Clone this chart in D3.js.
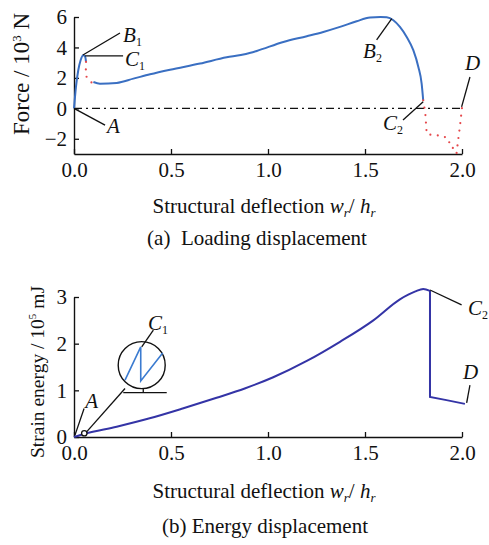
<!DOCTYPE html>
<html>
<head>
<meta charset="utf-8">
<script src="https://cdn.jsdelivr.net/npm/d3@7/dist/d3.min.js"></script>
<style>
  html, body { margin: 0; padding: 0; background: #ffffff; }
  svg { display: block; }
  text { font-family: "Liberation Serif", "Times New Roman", serif; fill: #111; }
</style>
</head>
<body>
<svg id="chart" width="489" height="545"></svg>
<script>
// ---- data ----
const xTicks = [0, 0.5, 1.0, 1.5, 2.0];
const forceTicks = [-2, 0, 2, 4, 6];
const energyTicks = [0, 1, 2, 3];

// force (10^3 N) vs deflection: initial loading A -> B1 -> C1
const riseX = [0, 0.01, 0.022, 0.034, 0.048, 0.058, 0.062];
const riseY = [0, 1.4, 2.5, 3.16, 3.49, 3.38, 3.05];
// unstable drop after C1
const dropX = [0.062, 0.061, 0.063, 0.09];
const dropY = [3.05, 2.5, 2.1, 1.7];
// main loading branch up to B2 and C2
const mainX = [0.1, 0.134, 0.22, 0.306, 0.392, 0.495, 0.65, 0.787, 0.86, 0.91, 0.942, 1.079, 1.2, 1.285, 1.371, 1.457, 1.526, 1.58, 1.612, 1.646, 1.68, 1.715, 1.749, 1.775, 1.792, 1.8];
const mainY = [1.73, 1.62, 1.67, 1.95, 2.24, 2.54, 2.94, 3.35, 3.5, 3.65, 3.77, 4.36, 4.74, 5.02, 5.35, 5.72, 5.96, 6.0, 5.98, 5.79, 5.35, 4.69, 3.82, 2.72, 1.62, 0.53];
// post-failure branch C2 -> D
const failX = [1.8, 1.811, 1.818, 1.852, 1.895, 1.93, 1.94, 1.964, 1.972, 1.98, 1.99, 2.0];
const failY = [0.53, -0.35, -1.67, -1.78, -1.78, -2.0, -2.54, -2.65, -2.95, -2.1, -1.12, 0.05];

// strain energy (10^5 mJ) vs deflection
const energyX = [0, 0.057, 0.22, 0.39, 0.56, 0.735, 0.88, 1.027, 1.2, 1.371, 1.543, 1.68, 1.76, 1.8, 1.835];
const energyY = [0, 0.07, 0.22, 0.40, 0.61, 0.84, 1.04, 1.28, 1.63, 2.04, 2.5, 2.95, 3.12, 3.17, 3.13];
const energyTailX = [1.835, 1.835, 1.92, 2.015];
const energyTailY = [3.13, 0.86, 0.79, 0.71];

// ---- layout ----
const svg = d3.select("#chart");
const FONT = 21;
const blue = "#3a6fc2";
const red = "#e5484b";
const indigo = "#3434a6";

const x = d3.scaleLinear().domain([0, 2]).range([74, 462]);
const yF = d3.scaleLinear().domain([-3, 6]).range([154, 17]);
const yE = d3.scaleLinear().domain([0, 3]).range([437, 297]);

const zip = (xs, ys) => xs.map((v, i) => [v, ys[i]]);

function drawAxes(yScale, ticks, xBase) {
  const gx = svg.append("g").attr("transform", `translate(0,${xBase})`)
    .call(d3.axisBottom(x).tickValues(xTicks).tickFormat(d3.format(".1f"))
      .tickSizeInner(-5).tickSizeOuter(0).tickPadding(8));
  const gy = svg.append("g").attr("transform", `translate(${x(0)},0)`)
    .call(d3.axisLeft(yScale).tickValues(ticks).tickFormat(d3.format("d"))
      .tickSizeInner(-5).tickSizeOuter(0).tickPadding(7));
  [gx, gy].forEach(g => {
    g.selectAll("path.domain").attr("stroke", "#111").attr("stroke-width", 1.4);
    g.selectAll(".tick line").attr("stroke", "#111").attr("stroke-width", 1.3);
    g.selectAll(".tick text").style("font-family", "Liberation Serif, serif")
      .style("font-size", FONT + "px").attr("fill", "#111");
  });
}

function label(sx, sy, px, py, main, sub) {
  const t = svg.append("text").attr("x", sx(px)).attr("y", sy(py))
    .style("font-size", FONT + "px").style("font-style", "italic").text(main);
  if (sub) {
    t.append("tspan").attr("dy", 4).style("font-size", "12px")
      .style("font-style", "normal").text(sub);
  }
}

function leader(sx, sy, p0, p1) {
  svg.append("line")
    .attr("x1", sx(p0[0])).attr("y1", sy(p0[1]))
    .attr("x2", sx(p1[0])).attr("y2", sy(p1[1]))
    .attr("stroke", "#111").attr("stroke-width", 1.3);
}

function axisTitle(cx, baseY, main) {
  const t = svg.append("text").attr("x", cx).attr("y", baseY)
    .attr("text-anchor", "middle").style("font-size", FONT + "px");
  t.append("tspan").text(main + " ");
  t.append("tspan").style("font-style", "italic").text("w");
  t.append("tspan").attr("dy", 4).style("font-size", "13px").style("font-style", "italic").text("r");
  t.append("tspan").attr("dy", -4).text("/ ");
  t.append("tspan").style("font-style", "italic").text("h");
  t.append("tspan").attr("dy", 4).style("font-size", "13px").style("font-style", "italic").text("r");
}

function yTitle(cx, cy, size, before, sup, after) {
  const t = svg.append("text")
    .attr("transform", `translate(${cx},${cy}) rotate(-90)`)
    .attr("text-anchor", "middle").style("font-size", size + "px");
  t.append("tspan").text(before);
  t.append("tspan").attr("dy", -8).style("font-size", Math.round(size * 0.58) + "px").text(sup);
  t.append("tspan").attr("dy", 8).text(after);
}

// ================= (a) loading displacement =================
drawAxes(yF, forceTicks, yF(-3));

// zero reference line
svg.append("line")
  .attr("x1", x(0)).attr("x2", x(2)).attr("y1", yF(0)).attr("y2", yF(0))
  .attr("stroke", "#111").attr("stroke-width", 1.4)
  .attr("stroke-dasharray", "8,4,2,4");

const lineF = d3.line().x(d => x(d[0])).y(d => yF(d[1]));

svg.append("path").datum(zip(riseX, riseY))
  .attr("d", lineF.curve(d3.curveMonotoneX)).attr("fill", "none")
  .attr("stroke", blue).attr("stroke-width", 2);
svg.append("path").datum(zip(mainX, mainY))
  .attr("d", lineF.curve(d3.curveMonotoneX)).attr("fill", "none")
  .attr("stroke", blue).attr("stroke-width", 2);

const dotted = d3.line().x(d => x(d[0])).y(d => yF(d[1])).curve(d3.curveLinear);
[zip(dropX, dropY), zip(failX, failY)].forEach(seg => {
  svg.append("path").datum(seg).attr("d", dotted).attr("fill", "none")
    .attr("stroke", red).attr("stroke-width", 2.2)
    .attr("stroke-linecap", "round").attr("stroke-dasharray", "0,7.5");
});

// point labels
leader(x, yF, [0, 0], [0.16, -1.1]);
label(x, yF, 0.17, -1.62, "A");
leader(x, yF, [0.046, 3.5], [0.237, 4.95]);
label(x, yF, 0.253, 4.36, "B", "1");
leader(x, yF, [0.057, 3.44], [0.253, 3.44]);
label(x, yF, 0.263, 2.8, "C", "1");
leader(x, yF, [1.638, 5.9], [1.56, 4.49]);
label(x, yF, 1.49, 3.3, "B", "2");
leader(x, yF, [1.8, 0.43], [1.696, -0.77]);
label(x, yF, 1.593, -1.43, "C", "2");
leader(x, yF, [1.998, 0.1], [2.041, 2.06]);
label(x, yF, 2.015, 2.52, "D");

yTitle(29, 74, 23, "Force / 10", "3", " N");
axisTitle(264, 213, "Structural deflection");
svg.append("text").attr("x", 257).attr("y", 245).attr("text-anchor", "middle")
  .style("font-size", FONT + "px")
  .text("(a)\u00a0\u00a0Loading displacement");

// ================= (b) energy displacement =================
drawAxes(yE, energyTicks, yE(0));

const lineE = d3.line().x(d => x(d[0])).y(d => yE(d[1]));
svg.append("path").datum(zip(energyX, energyY))
  .attr("d", lineE.curve(d3.curveMonotoneX)).attr("fill", "none")
  .attr("stroke", indigo).attr("stroke-width", 2);
svg.append("path").datum(zip(energyTailX, energyTailY))
  .attr("d", lineE.curve(d3.curveLinear)).attr("fill", "none")
  .attr("stroke", indigo).attr("stroke-width", 2);

// magnified view of the jump at C1
const lens = { cx: 0.349, cy: 1.54, r: 23.5 };
svg.append("circle").attr("cx", x(lens.cx)).attr("cy", yE(lens.cy)).attr("r", lens.r)
  .attr("fill", "none").attr("stroke", "#111").attr("stroke-width", 1.4);
const zigX = [0.263, 0.344, 0.344, 0.457];
const zigY = [1.22, 1.93, 1.2, 1.8];
svg.append("path").datum(zip(zigX, zigY))
  .attr("d", lineE.curve(d3.curveLinear)).attr("fill", "none")
  .attr("stroke", "#3b7bd0").attr("stroke-width", 1.6);
leader(x, yE, [0.254, 0.95], [0.478, 0.95]);
leader(x, yE, [0.357, 0.95], [0.357, 1.04]);
leader(x, yE, [0.263, 1.04], [0.065, 0.11]);
svg.append("circle").attr("cx", x(0.053)).attr("cy", yE(0.08)).attr("r", 2.7)
  .attr("fill", "#fff").attr("stroke", "#111").attr("stroke-width", 1.3);

leader(x, yE, [0.005, 0.04], [0.052, 0.61]);
label(x, yE, 0.058, 0.62, "A");
leader(x, yE, [0.349, 1.93], [0.409, 2.29]);
label(x, yE, 0.381, 2.29, "C", "1");
leader(x, yE, [1.835, 3.15], [1.998, 2.83]);
label(x, yE, 2.031, 2.61, "C", "2");
leader(x, yE, [2.024, 0.73], [2.041, 1.11]);
label(x, yE, 2.005, 1.24, "D");

yTitle(44, 372, 19.5, "Strain energy / 10", "5", " mJ");
axisTitle(264, 498, "Structural deflection");
svg.append("text").attr("x", 265).attr("y", 533).attr("text-anchor", "middle")
  .style("font-size", FONT + "px").text("(b) Energy displacement");
</script>
</body>
</html>
